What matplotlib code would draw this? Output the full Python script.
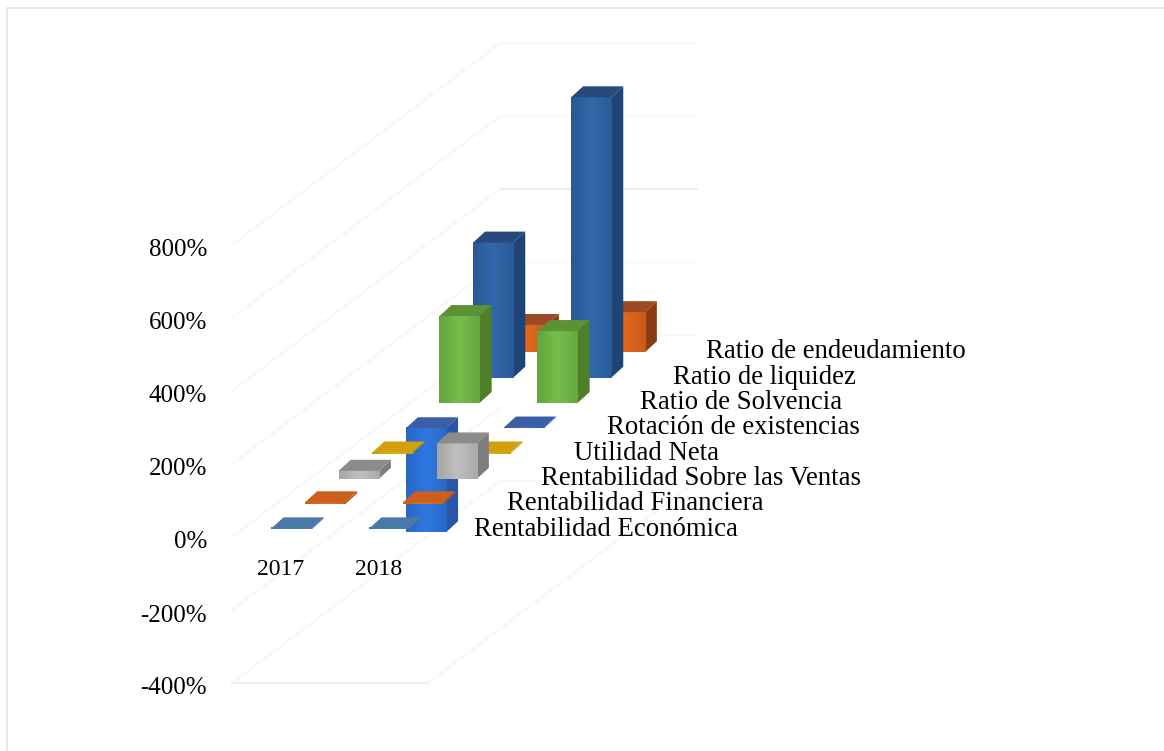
import numpy as np
import matplotlib
matplotlib.use('Agg')
import matplotlib.pyplot as plt
from matplotlib.colors import LinearSegmentedColormap, to_rgb
from matplotlib.lines import Line2D
from matplotlib.patches import Polygon
from matplotlib.transforms import ScaledTranslation

years = ['2017', '2018']
ratios = ['Rentabilidad Económica', 'Rentabilidad Financiera', 'Rentabilidad Sobre las Ventas',
          'Utilidad Neta', 'Rotación de existencias', 'Ratio de Solvencia',
          'Ratio de liquidez', 'Ratio de endeudamiento']
values_2017 = [3, 5, 22, 3, -285, 238, 370, 75]
values_2018 = [3, 5, 97, 3, 2, 197, 768, 110]
y_ticks = [-400, -200, 0, 200, 400, 600, 800]

front_colors = ['#4a7cb4', '#d9661f', '#b2b2b2', '#d9a40e', '#2b6fd2', '#6cb043', '#2d609f', '#d2601a']
top_colors = ['#4a78aa', '#cc5f1e', '#8b8b8b', '#d2a00f', '#3c5ea6', '#5c9136', '#27497c', '#9c4a26']
side_colors = ['#3c6694', '#a94c14', '#7d7d7d', '#b08608', '#2a55a8', '#4f7f2b', '#1e4477', '#8c3c14']

# fake Excel's oblique 3d: each row of the depth axis shifts right and up
ROW_DX = 33.6 / 98
ROW_DY = 25.3 / 0.365
BAR_W = 0.41
BAR_DX = 12 / 98
BAR_DY = 30
ROW_START = 0.3


def project(c, d, v):
    return c + d * ROW_DX, v + d * ROW_DY


def shaded(ax, x0, x1, y0, y1, color, z):
    rgb = np.array(to_rgb(color))
    cmap = LinearSegmentedColormap.from_list('f', [rgb * 0.93, np.clip(rgb * 1.08, 0, 1), rgb * 0.95])
    ax.imshow(np.linspace(0, 1, 32).reshape(1, -1), extent=(x0, x1, y0, y1), cmap=cmap,
              aspect='auto', zorder=z, clip_on=False, interpolation='bilinear')


def draw_bar(ax, c, row, value, i, z):
    lo, hi = min(value, 0), max(value, 0)
    x, y_lo = project(c, row + ROW_START, lo)
    y_hi = y_lo + hi - lo
    top = [(x, y_hi), (x + BAR_W, y_hi), (x + BAR_W + BAR_DX, y_hi + BAR_DY), (x + BAR_DX, y_hi + BAR_DY)]
    side = [(x + BAR_W, y_lo), (x + BAR_W + BAR_DX, y_lo + BAR_DY),
            (x + BAR_W + BAR_DX, y_hi + BAR_DY), (x + BAR_W, y_hi)]
    ax.add_patch(Polygon(side, fc=side_colors[i], ec='none', zorder=z, clip_on=False))
    shaded(ax, x, x + BAR_W, y_lo, y_hi, front_colors[i], z + 0.1)
    ax.add_patch(Polygon(top, fc=top_colors[i], ec='none', zorder=z + 0.2, clip_on=False))


plt.rcParams['font.family'] = ['Liberation Serif', 'DejaVu Serif']
fig = plt.figure(figsize=(11.64, 7.51), dpi=100)
# only the left and top edges of the chart frame are inside the crop
fig.add_artist(Line2D([6.5 / 1164, 6.5 / 1164, 1], [0, 1 - 8 / 751, 1 - 8 / 751],
                      transform=fig.transFigure, color='#e3e8ec', lw=1.5))

ax = fig.add_axes([232 / 1164, (751 - 683) / 751, 932 / 1164, 438 / 751])
for s in ax.spines.values():
    s.set_visible(False)
ax.patch.set_alpha(0)

# walls and floor gridlines, very faint in the original
c_left, c_right = -0.3, 1.7
for v in y_ticks:
    xs, ys = zip(project(c_left, 0, v), project(c_left, 8, v))
    ax.plot(xs, ys, color='#f8f8f8', lw=2, zorder=1, clip_on=False)
    xs, ys = zip(project(c_left, 8, v), project(c_right, 8, v))
    ax.plot(xs, ys, color='#eaeaea' if v == 400 else '#fafafa', lw=1.3, zorder=1, clip_on=False)
xs, ys = zip(project(c_right, 0, -400), project(c_right, 8, -400))
ax.plot(xs, ys, color='#f8f8f8', lw=2, zorder=1, clip_on=False)
xs, ys = zip(project(c_left, 0, -400), project(c_right, 0, -400))
ax.plot(xs, ys, color='#eeeeee', lw=1.5, zorder=1, clip_on=False)

n = len(ratios)
for i in range(n - 1, -1, -1):
    z = 10 + (n - i) * 2
    draw_bar(ax, 0, i, values_2017[i], i, z)
    draw_bar(ax, 1, i, values_2018[i], i, z)

ax.set_xlim(-0.3, -0.3 + 932 / 98)
ax.set_ylim(-400, 800)
ax.set_xticks([])
ax.set_yticks(y_ticks)
ax.set_yticklabels([f'{v}%' for v in y_ticks], fontsize=18)
ax.tick_params(axis='y', length=0, pad=18)
nudge = ScaledTranslation(0, -3 / 100, fig.dpi_scale_trans)
for lab in ax.get_yticklabels():
    lab.set_transform(lab.get_transform() + nudge)

for k, year in enumerate(years):
    x, y = project(k + 0.2, 0, -88)
    ax.text(x, y, year, fontsize=17, ha='center', va='center', zorder=40)
for i, name in enumerate(ratios):
    x, y = project(2.07, i + ROW_START, 1)
    ax.text(x - 0.0045 * i, y, name, fontsize=19.3, ha='left', va='center', zorder=40, clip_on=False)

fig.savefig('out.png', dpi=100)
